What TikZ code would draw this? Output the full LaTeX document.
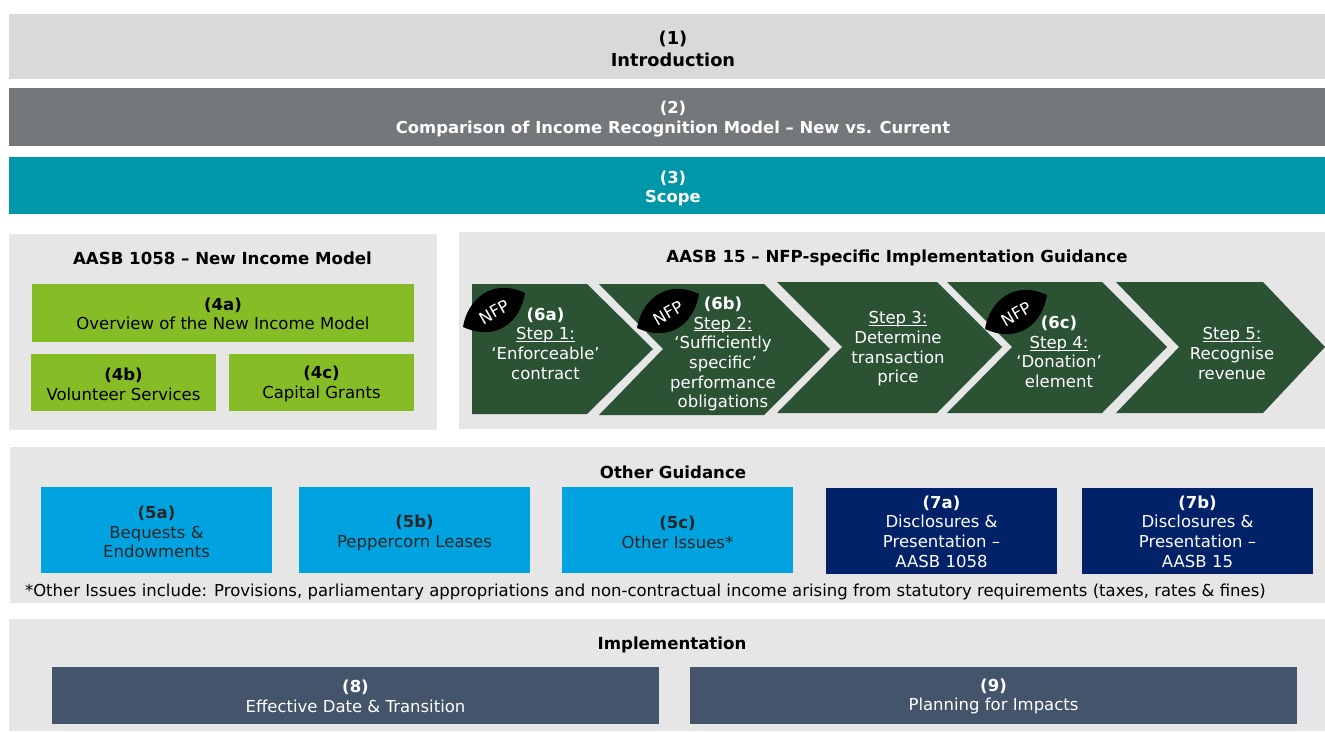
\documentclass[tikz,border=0pt]{standalone}
\usepackage{fontspec}
\setmainfont{DejaVu Sans}
\definecolor{panel}{HTML}{E6E6E6}
\definecolor{introgray}{HTML}{D9D9D9}
\definecolor{compgray}{HTML}{75787B}
\definecolor{scopeteal}{HTML}{0097A9}
\definecolor{limegreen}{HTML}{86BC25}
\definecolor{skyblue}{HTML}{00A3E0}
\definecolor{navyblue}{HTML}{012169}
\definecolor{slateblue}{HTML}{44546A}
\definecolor{forest}{HTML}{2C5234}
\tikzset{
  x=1pt,y=-1pt,
  every node/.style={font=\fontsize{16.5}{19.7}\selectfont,align=center,inner sep=0pt,outer sep=0pt},
  panelbox/.style={fill=panel,draw=none},
  chev/.style={fill=forest,draw=none},
  leaf/.style={fill=black,draw=none},
  leaftext/.style={text=white,rotate=30,font=\fontsize{16.5}{19}\selectfont},
  headtext/.style={text=black,font=\fontsize{16.6}{19.7}\selectfont\bfseries},
  whitetext/.style={text=white},
  darktext/.style={text=black!85}
}
\newcommand{\bx}[6]{\fill[#5] (#1,#2) rectangle (#3,#4);\node[#6] at ({(#1+#3)/2},{(#2+#4)/2})}
\newcommand{\stepul}[1]{\setbox0=\hbox{#1}\rlap{\rule[-2.4pt]{\wd0}{1pt}}\box0}
\begin{document}
\begin{tikzpicture}
\useasboundingbox (0,0) rectangle (1325,731);
% top bars
\bx{9}{14}{1325}{79}{introgray}{text=black,xshift=6pt,yshift=-2pt,font=\fontsize{17.8}{22}\selectfont\bfseries} (n1) {(1)\\Introduction};
\bx{9}{88}{1325}{146}{compgray}{whitetext,xshift=6pt,yshift=-2pt,font=\fontsize{16.4}{19.7}\selectfont\bfseries} (n2) {(2)\\Comparison of Income Recognition Model – New vs. Current};
\bx{9}{157}{1325}{214}{scopeteal}{whitetext,xshift=6pt,yshift=-3pt,font=\fontsize{16.4}{19.7}\selectfont\bfseries} (n3) {(3)\\Scope};
% panels
\fill[panelbox] (9,234) rectangle (437,430);
\fill[panelbox] (459,232) rectangle (1325,429);
\fill[panelbox] (10,447) rectangle (1325,603);
\fill[panelbox] (9,619) rectangle (1325,731);
\node[headtext] (hleft) at (222.5,258) {AASB 1058 – New Income Model};
\node[headtext] (hright) at (897,258) {AASB 15 – NFP-specific Implementation Guidance};
\node[headtext] (hother) at (673,472) {Other Guidance};
\node[headtext] (himpl) at (672,645) {Implementation};
% green
\bx{32}{284}{414}{342}{limegreen}{text=black,yshift=-1pt} (n4a) {\textbf{(4a)}\\Overview of the New Income Model};
\bx{31}{354}{216}{411}{limegreen}{text=black,yshift=-1.5pt} (n4b) {\textbf{(4b)}\\Volunteer Services};
\bx{229}{354}{414}{411}{limegreen}{text=black,yshift=-1.5pt} (n4c) {\textbf{(4c)}\\Capital Grants};
% chevrons
\fill[chev] (472,284) -- (587,284) -- (653,349) -- (587,414) -- (472,414) -- cycle;
\fill[chev] (599,284) -- (764,284) -- (830,349) -- (764,415) -- (599,415) -- (663,349) -- cycle;
\fill[chev] (777,282) -- (937,282) -- (1002,347) -- (937,413) -- (777,413) -- (842,347) -- cycle;
\fill[chev] (947,282) -- (1102,282) -- (1167,347) -- (1102,413) -- (947,413) -- (1012,347) -- cycle;
\fill[chev] (1116,282) -- (1263,282) -- (1325,347) -- (1263,413) -- (1116,413) -- (1179,347) -- cycle;
% leaves
\foreach \lx/\ly/\nm in {463/327/a,637/328/b,985/329/c}{
  \fill[leaf] (\lx,\ly) .. controls (\lx+4,\ly-26) and (\lx+28,\ly-50) .. (\lx+62,\ly-34)
     .. controls (\lx+58,\ly-8) and (\lx+36,\ly+16) .. cycle;
  \node[leaftext] (leaf\nm) at (\lx+31,\ly-15) {NFP};
}
\node[whitetext] (c1) at (545.5,343.5) {\textbf{(6a)}\\\stepul{Step 1:}\\‘Enforceable’\\contract};
\node[whitetext] (c2) at (723,354) {\textbf{(6b)}\\\stepul{Step 2:}\\‘Sufficiently\\specific’\\performance\\obligations};
\node[whitetext] (c3) at (898,349) {\stepul{Step 3:}\\Determine\\transaction\\price};
\node[whitetext] (c4) at (1059,352) {\textbf{(6c)}\\\stepul{Step 4:}\\‘Donation’\\element};
\node[whitetext] (c5) at (1232,353.5) {\stepul{Step 5:}\\Recognise\\revenue};
% guidance
\bx{41}{487}{272}{573}{skyblue}{darktext,yshift=-2pt} (n5a) {\textbf{(5a)}\\Bequests \&\\Endowments};
\bx{299}{487}{530}{573}{skyblue}{darktext,yshift=-3pt} (n5b) {\textbf{(5b)}\\Peppercorn Leases};
\bx{562}{487}{793}{573}{skyblue}{darktext,yshift=-2pt} (n5c) {\textbf{(5c)}\\Other Issues*};
\bx{826}{488}{1057}{574}{navyblue}{whitetext,yshift=-0.5pt} (n7a) {\textbf{(7a)}\\Disclosures \&\\Presentation –\\AASB 1058};
\bx{1082}{488}{1313}{574}{navyblue}{whitetext,yshift=-0.5pt} (n7b) {\textbf{(7b)}\\Disclosures \&\\Presentation –\\AASB 15};
\node[text=black,anchor=west] (note) at (25,592) {*Other Issues include: Provisions, parliamentary appropriations and non-contractual income arising from statutory requirements (taxes, rates \& fines)};
% implementation
\bx{52}{667}{659}{724}{slateblue}{whitetext,yshift=-1pt} (n8) {\textbf{(8)}\\Effective Date \& Transition};
\bx{690}{667}{1297}{724}{slateblue}{whitetext,yshift=-1pt} (n9) {\textbf{(9)}\\Planning for Impacts};
\end{tikzpicture}
\end{document}
